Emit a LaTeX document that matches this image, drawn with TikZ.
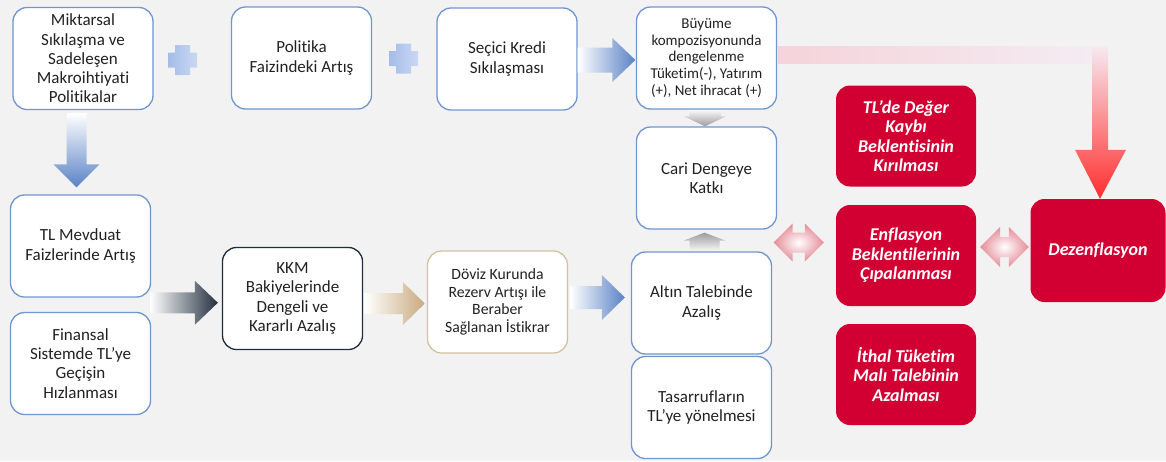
\documentclass[tikz,border=0pt]{standalone}
\usepackage{fontspec}
\setmainfont{Carlito}[Ligatures={NoCommon}]
\usetikzlibrary{calc}
\definecolor{bg}{HTML}{F2F2F2}
\definecolor{boxblue}{HTML}{7096D0}
\definecolor{kkmborder}{HTML}{1F2D3D}
\definecolor{tanborder}{HTML}{D4C09E}
\definecolor{redc}{HTML}{D20032}
\definecolor{txt}{HTML}{222222}
\definecolor{arrblue}{HTML}{5A82C6}
\definecolor{arrdark}{HTML}{243040}
\definecolor{arrtan}{HTML}{C8AA80}
\definecolor{plusA}{HTML}{A5BCE8}
\definecolor{plusB}{HTML}{CAD8F2}
\definecolor{pinkL}{HTML}{F5D3DA}
\definecolor{pinkR}{HTML}{F4ECF2}
\definecolor{pinkTop}{HTML}{F6EAF0}
\definecolor{pinkMid}{HTML}{F8AEB2}
\definecolor{pinkBot}{HTML}{FF2E2E}
\definecolor{dblpink}{HTML}{E58C98}
\definecolor{grayarr}{HTML}{9C9C9C}
% right-pointing block arrow: style, start, tip, shaft half, head half, head length
\newcommand{\rarr}[6]{\path[#1] let \p1=(#2), \p2=(#3) in
  (\x1,\y1+#4pt) -- (\x2-#6pt,\y1+#4pt) -- (\x2-#6pt,\y1+#5pt) -- (\x2,\y1)
  -- (\x2-#6pt,\y1-#5pt) -- (\x2-#6pt,\y1-#4pt) -- (\x1,\y1-#4pt) -- cycle;}
% down-pointing
\newcommand{\darr}[6]{\path[#1] let \p1=(#2), \p2=(#3) in
  (\x1-#4pt,\y1) -- (\x1-#4pt,\y2+#6pt) -- (\x1-#5pt,\y2+#6pt) -- (\x1,\y2)
  -- (\x1+#5pt,\y2+#6pt) -- (\x1+#4pt,\y2+#6pt) -- (\x1+#4pt,\y1) -- cycle;}
% up-pointing
\newcommand{\uarr}[6]{\path[#1] let \p1=(#2), \p2=(#3) in
  (\x1-#4pt,\y1) -- (\x1-#4pt,\y2-#6pt) -- (\x1-#5pt,\y2-#6pt) -- (\x1,\y2)
  -- (\x1+#5pt,\y2-#6pt) -- (\x1+#4pt,\y2-#6pt) -- (\x1+#4pt,\y1) -- cycle;}
% left-right double arrow
\newcommand{\lrarr}[6]{\path[#1] let \p1=(#2), \p2=(#3) in
  (\x1,\y1) -- (\x1+#6pt,\y1+#5pt) -- (\x1+#6pt,\y1+#4pt) -- (\x2-#6pt,\y1+#4pt)
  -- (\x2-#6pt,\y1+#5pt) -- (\x2,\y1) -- (\x2-#6pt,\y1-#5pt) -- (\x2-#6pt,\y1-#4pt)
  -- (\x1+#6pt,\y1-#4pt) -- (\x1+#6pt,\y1-#5pt) -- cycle;}
\begin{document}
\begin{tikzpicture}[x=1pt,y=-1pt,
  box/.style={draw=boxblue, line width=1.3pt, fill=white, rounded corners=14pt,
    minimum width=140pt, minimum height=102pt, align=center, inner sep=1pt,
    font=\fontsize{17}{19.3}\selectfont, text=txt},
  redbox/.style={fill=redc, rounded corners=14pt, minimum width=140pt,
    minimum height=101pt, align=center, inner sep=1pt,
    font=\fontsize{18}{19.5}\selectfont\bfseries\itshape, text=white},
  plusshape/.style={left color=plusA, right color=plusB},
  dblarrow/.style={inner color=white, outer color=dblpink}
]
\path[fill=bg] (0,0) rectangle (1166,461);
\useasboundingbox (0,0) rectangle (1166,461);

% ---- nodes
\node[box] (mik) at (83,58.5) {Miktarsal\\Sıkılaşma ve\\Sadeleşen\\Makroihtiyati\\Politikalar};
\node[box] (pol) at (301.5,58) {Politika\\Faizindeki Artış};
\node[box] (sec) at (507,59) {Seçici Kredi\\Sıkılaşması};
\node[box, font=\fontsize{15}{16.6}\selectfont] (buy) at (706.5,58) {Büyüme\\kompozisyonunda\\dengelenme\\Tüketim(-), Yatırım\\(+), Net ihracat (+)};
\node[box] (cari) at (706.5,178) {Cari Dengeye\\Katkı};
\node[box] (alt) at (701.5,303) {Altın Talebinde\\Azalış};
\node[box] (tas) at (701.5,407.5) {Tasarrufların\\TL’ye yönelmesi};
\node[box, draw=tanborder, font=\fontsize{15.7}{17.7}\selectfont] (dov) at (497.5,302) {Döviz Kurunda\\Rezerv Artışı ile\\Beraber\\Sağlanan İstikrar};
\node[box, draw=kkmborder] (kkm) at (292.5,298.5) {KKM\\Bakiyelerinde\\Dengeli ve\\Kararlı Azalış};
\node[box] (tlm) at (80.5,246) {TL Mevduat\\Faizlerinde Artış};
\node[box] (fin) at (80.5,363.5) {Finansal\\Sistemde TL’ye\\Geçişin\\Hızlanması};
\node[redbox] (tld) at (906,136) {TL’de Değer\\Kaybı\\Beklentisinin\\Kırılması};
\node[redbox] (enf) at (906,255.5) {Enflasyon\\Beklentilerinin\\Çıpalanması};
\node[redbox] (ith) at (906,374.5) {İthal Tüketim\\Malı Talebinin\\Azalması};
\node[redbox, minimum width=135pt, minimum height=103pt] (dez) at (1098,250.5) {Dezenflasyon};

% ---- plus signs
\coordinate (p1) at (182.5,60);
\coordinate (p2) at (403.5,58.5);
\foreach \c in {p1,p2}{
  \path[plusshape, shift={(\c)}] (-7.5,-15) -- (7.5,-15) -- (7.5,-7.5) -- (14.5,-7.5)
    -- (14.5,7.5) -- (7.5,7.5) -- (7.5,15) -- (-7.5,15) -- (-7.5,7.5) -- (-14.5,7.5)
    -- (-14.5,-7.5) -- (-7.5,-7.5) -- cycle;
}

% ---- block arrows
\darr{top color=white, bottom color=arrblue}{$(mik.south)+(-6.5,3)$}{$(tlm.north)+(-4,-7)$}{10}{23}{23}
\rarr{left color=white, right color=arrblue}{$(sec.east)+(0,1)$}{$(buy.west)+(-0.5,0)$}{12.5}{22}{23}
\rarr{left color=white, right color=arrdark}{$(tlm.south east)!0.5!(fin.north east)+(-1,-2)$}{$(kkm.west)+(-4,0)$}{10.5}{22}{23}
\rarr{left color=white, right color=arrtan}{$(kkm.east)+(1,5)$}{$(dov.west)+(-2,0)$}{10.5}{21.5}{22}
\rarr{left color=white, right color=arrblue}{$(dov.east)+(2,-4.5)$}{$(alt.west)+(-6,0)$}{11.5}{22.5}{23}
\darr{top color=white!92!grayarr, bottom color=grayarr}{$(buy.south)+(-1.5,0.5)$}{$(cari.north)+(-1.5,0)$}{16}{21}{10}
\uarr{top color=grayarr, bottom color=white!92!grayarr}{$(alt.north)+(3,-0.5)$}{$(cari.south)+(-2.5,3)$}{15}{21}{8}

% ---- double arrows
\lrarr{dblarrow}{$(cari.south east)!0.5!(alt.north east)+(-1,2)$}{$(enf.west)+(-12,0)$}{10}{19}{19}
\lrarr{dblarrow}{$(enf.east)+(4,-8.5)$}{$(dez.west)+(-1.5,0)$}{10}{20}{20}

% ---- elbow arrow Büyüme -> Dezenflasyon
\path[left color=pinkL, right color=pinkR] let \p1=(buy.east), \p2=(dez.north) in
  (\x1+0.6pt,\y1+12pt) rectangle (\x2-6pt,\y1-5pt);
\path[top color=pinkTop, middle color=pinkMid, bottom color=pinkBot] let \p1=(buy.east), \p2=(dez.north) in
  (\x2-6pt,\y1+12pt) -- (\x2+10pt,\y1+12pt) -- (\x2+10pt,\y2+49pt) -- (\x2+28pt,\y2+49pt)
  -- (\x2+2pt,\y2) -- (\x2-23pt,\y2+49pt) -- (\x2-6pt,\y2+49pt) -- cycle;
\end{tikzpicture}
\end{document}
